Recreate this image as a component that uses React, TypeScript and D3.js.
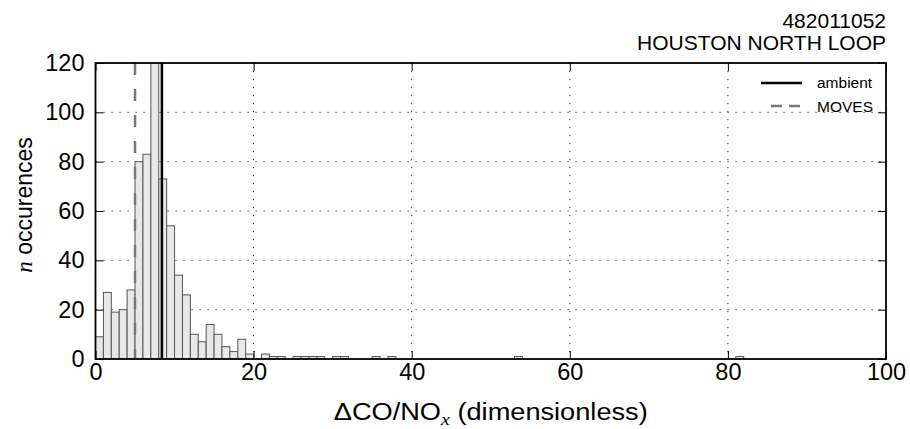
import React, { useRef, useEffect } from "react";
import * as d3 from "d3";

// histogram of dCO/NOx, bins of width 1 (only the non-empty bins listed)
const binStarts = [0, 1, 2, 3, 4, 5, 6, 7, 8, 9, 10, 11, 12, 13, 14, 15, 16, 17, 18, 19, 21, 22, 23, 25, 26, 27, 28, 30, 31, 35, 37, 53, 81];
const binCounts = [9, 27, 19, 20, 28, 80, 83, 130, 73, 54, 34, 26, 10, 7, 14, 10, 5, 3, 8, 2, 2, 1, 1, 1, 1, 1, 1, 1, 1, 1, 1, 1, 1];
const binWidth = 1;

const xTicks = [0, 20, 40, 60, 80, 100];
const yTicks = [0, 20, 40, 60, 80, 100, 120];

const ambientValue = 8.4;
const movesValue = 5.0;

const siteId = "482011052";
const siteName = "HOUSTON NORTH LOOP";
const legendLabels = ["ambient", "MOVES"];

const W = 910, H = 429;
const left = 95.5, right = 886, top = 63, bottom = 359;
const sans = "'Liberation Sans', Arial, Helvetica, sans-serif";
const serif = "'Liberation Serif', 'DejaVu Serif', serif";

function Histogram() {
    const svgRef = useRef<SVGSVGElement>(null);

    useEffect(() => {
        const svg = d3.select(svgRef.current);
        svg.selectAll("*").remove();

        const x = d3.scaleLinear().domain([0, 100]).range([left, right]);
        const y = d3.scaleLinear().domain([0, 120]).range([bottom, top]);

        svg.append("defs").append("clipPath").attr("id", "plotclip")
            .append("rect").attr("x", left).attr("y", top)
            .attr("width", right - left).attr("height", bottom - top);

        // grid (dotted)
        const grid = svg.append("g").attr("stroke", "#222").attr("stroke-width", 1)
            .attr("stroke-dasharray", "1.2,6.8");
        grid.selectAll("line.gx").data(xTicks.slice(1, -1)).join("line")
            .attr("x1", d => x(d)).attr("x2", d => x(d)).attr("y1", top).attr("y2", bottom);
        grid.selectAll("line.gy").data(yTicks.slice(1, -1)).join("line")
            .attr("y1", d => y(d)).attr("y2", d => y(d)).attr("x1", left).attr("x2", right);

        // bars
        const bars = svg.append("g").attr("clip-path", "url(#plotclip)");
        bars.selectAll("rect").data(binStarts).join("rect")
            .attr("x", d => x(d))
            .attr("width", d => x(d + binWidth) - x(d))
            .attr("y", (d, i) => y(binCounts[i]))
            .attr("height", (d, i) => bottom - y(binCounts[i]))
            .attr("fill", "#e8e8e8")
            .attr("stroke", "#555")
            .attr("stroke-width", 1);

        // reference lines
        const lines = svg.append("g").attr("clip-path", "url(#plotclip)");
        lines.append("line")
            .attr("x1", x(movesValue)).attr("x2", x(movesValue)).attr("y1", top).attr("y2", bottom)
            .attr("stroke", "#777").attr("stroke-width", 2.5).attr("stroke-dasharray", "12,14");
        lines.append("line")
            .attr("x1", x(ambientValue)).attr("x2", x(ambientValue)).attr("y1", top).attr("y2", bottom)
            .attr("stroke", "#000").attr("stroke-width", 2.5);

        // axes, ticks pointing inward
        const bx = svg.append("g").attr("transform", `translate(0,${bottom})`)
            .call(d3.axisBottom(x).tickValues(xTicks).tickSize(-8).tickSizeOuter(0).tickPadding(4).tickFormat(d3.format("d")));
        const ly = svg.append("g").attr("transform", `translate(${left},0)`)
            .call(d3.axisLeft(y).tickValues(yTicks).tickSize(-8).tickSizeOuter(0).tickPadding(11).tickFormat(d3.format("d")));
        svg.append("g").attr("transform", `translate(0,${top})`)
            .call(d3.axisTop(x).tickValues(xTicks).tickSize(-8).tickSizeOuter(0).tickFormat(() => ""));
        svg.append("g").attr("transform", `translate(${right},0)`)
            .call(d3.axisRight(y).tickValues(yTicks).tickSize(-8).tickSizeOuter(0).tickFormat(() => ""));
        svg.selectAll(".domain").remove();
        svg.selectAll(".tick line").attr("stroke", "#000").attr("stroke-width", 1);
        [bx, ly].forEach(g => g.selectAll("text")
            .attr("font-family", sans).attr("font-size", 23.5).attr("fill", "#000"));

        // frame
        svg.append("rect").attr("x", left).attr("y", top)
            .attr("width", right - left).attr("height", bottom - top)
            .attr("fill", "none").attr("stroke", "#000").attr("stroke-width", 1.8);

        // legend
        const lg = svg.append("g");
        lg.append("line").attr("x1", 761).attr("x2", 802).attr("y1", 83).attr("y2", 83)
            .attr("stroke", "#000").attr("stroke-width", 2.5);
        lg.append("line").attr("x1", 771).attr("x2", 802).attr("y1", 106).attr("y2", 106)
            .attr("stroke", "#777").attr("stroke-width", 2.5).attr("stroke-dasharray", "11,7");
        lg.selectAll("text").data(legendLabels).join("text")
            .attr("x", 817).attr("y", (d, i) => 88 + i * 23.5)
            .attr("font-family", sans).attr("font-size", 15.5).text(d => d);

        // titles
        svg.append("text").attr("x", right).attr("y", 28).attr("text-anchor", "end")
            .attr("font-family", sans).attr("font-size", 21).text(siteId);
        svg.append("text").attr("x", right).attr("y", 50).attr("text-anchor", "end")
            .attr("font-family", sans).attr("font-size", 21).text(siteName);

        // x label
        const xl = svg.append("text").attr("x", (left + right) / 2).attr("y", 420)
            .attr("text-anchor", "middle").attr("font-family", sans).attr("font-size", 23)
            .attr("textLength", 314).attr("lengthAdjust", "spacingAndGlyphs");
        xl.append("tspan").text("\u0394CO/NO");
        xl.append("tspan").attr("font-family", serif).attr("font-style", "italic")
            .attr("font-size", 17).attr("dy", 5).text("x");
        xl.append("tspan").attr("dy", -5).text(" (dimensionless)");

        // y label
        const yl = svg.append("text")
            .attr("transform", `translate(32,${(top + bottom) / 2 - 6}) rotate(-90)`)
            .attr("text-anchor", "middle").attr("font-family", sans).attr("font-size", 23);
        yl.append("tspan").attr("font-family", serif).attr("font-style", "italic").text("n");
        yl.append("tspan").text(" occurences");
    }, []);

    return (
        <svg ref={svgRef} width={W} height={H}
            style={{ position: "absolute", left: 0, top: 0, background: "#fff" }} />
    );
}

export default function App() {
    return <Histogram />;
}
